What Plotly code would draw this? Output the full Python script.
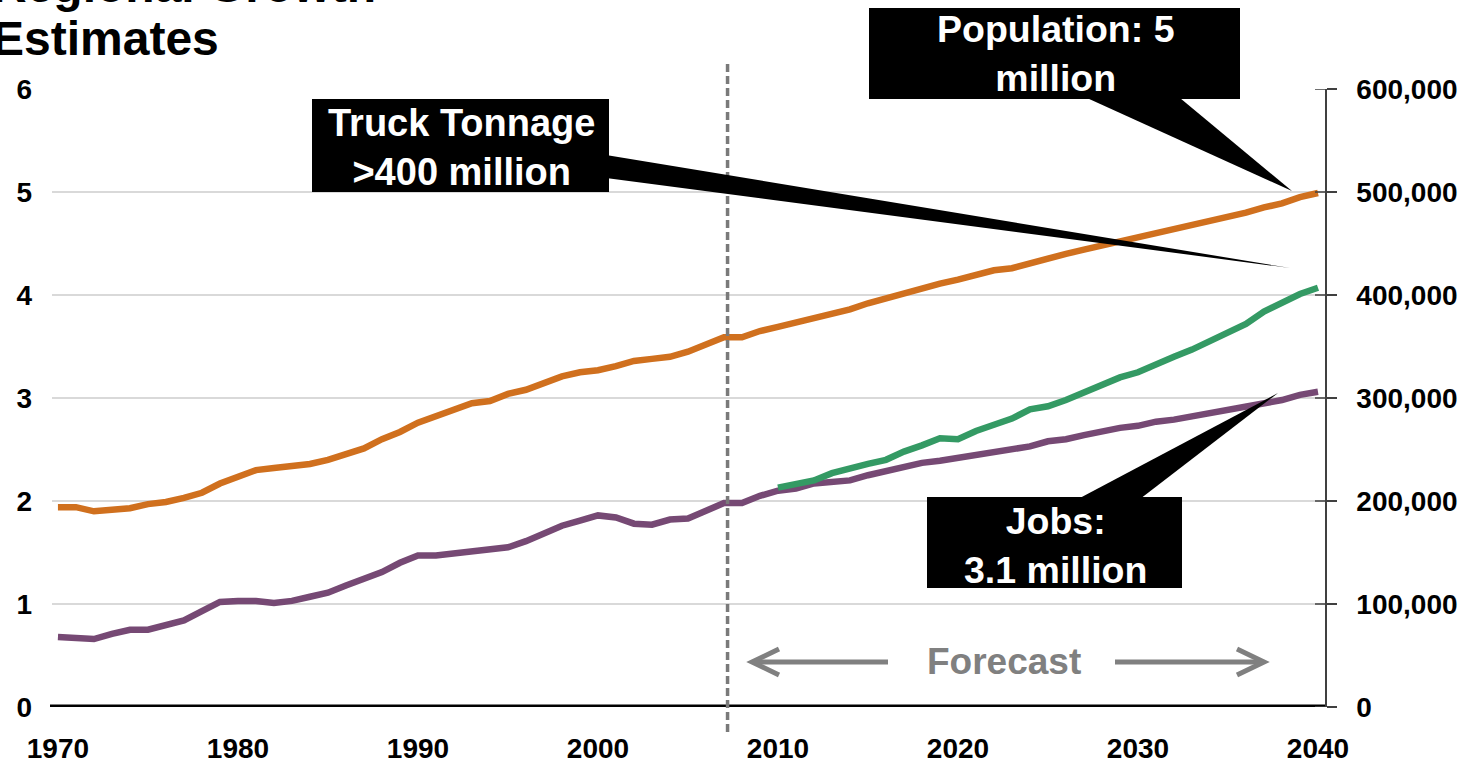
import plotly.graph_objects as go

# ---------------- data ----------------
years = list(range(1970, 2041))
population_m = [1.94, 1.94, 1.90, 1.91, 1.93, 1.97, 1.99, 2.03, 2.08, 2.17,
                2.24, 2.30, 2.32, 2.34, 2.36, 2.40, 2.45, 2.51, 2.60, 2.67,
                2.76, 2.82, 2.88, 2.95, 2.97, 3.04, 3.08, 3.14, 3.21, 3.25,
                3.27, 3.31, 3.36, 3.38, 3.40, 3.45, 3.52, 3.59, 3.59, 3.65,
                3.69, 3.73, 3.77, 3.82, 3.86, 3.92, 3.97, 4.02, 4.07, 4.11,
                4.15, 4.20, 4.24, 4.26, 4.31, 4.36, 4.40, 4.44, 4.48, 4.52,
                4.56, 4.60, 4.63, 4.68, 4.72, 4.76, 4.80, 4.85, 4.89, 4.95,
                4.99]
jobs_m = [0.68, 0.67, 0.66, 0.71, 0.75, 0.75, 0.80, 0.84, 0.93, 1.02,
          1.03, 1.03, 1.01, 1.03, 1.07, 1.11, 1.18, 1.25, 1.31, 1.40,
          1.47, 1.47, 1.49, 1.51, 1.53, 1.55, 1.61, 1.69, 1.76, 1.81,
          1.86, 1.84, 1.78, 1.77, 1.82, 1.83, 1.91, 1.98, 1.98, 2.05,
          2.10, 2.12, 2.17, 2.18, 2.20, 2.25, 2.29, 2.33, 2.37, 2.39,
          2.42, 2.45, 2.47, 2.50, 2.53, 2.58, 2.60, 2.64, 2.68, 2.71,
          2.73, 2.77, 2.79, 2.82, 2.85, 2.88, 2.91, 2.94, 2.98, 3.03,
          3.06]
truck_years = list(range(2010, 2041))
truck_kt = [213000, 217000, 220000, 227000, 232000, 236000, 240000, 248000,
            254000, 261000, 260000, 268000, 274000, 280000, 289000, 292000,
            298000, 305000, 313000, 320000, 325000, 333000, 340000, 347000,
            355000, 363000, 372000, 384000, 392000, 401000, 407000]

x_ticks = [1970, 1980, 1990, 2000, 2010, 2020, 2030, 2040]
left_ticks = [0, 1, 2, 3, 4, 5, 6]
right_ticks = [0, 100000, 200000, 300000, 400000, 500000, 600000]
right_tick_labels = ["0", "100,000", "200,000", "300,000", "400,000", "500,000", "600,000"]
forecast_start = 2007.2

# ---------------- layout helpers ----------------
W, H = 1482, 763
L, R, T, B = 52, 1325, 89, 707
FONT = "Liberation Sans, Arial, sans-serif"
ORANGE = "rgb(208,112,30)"
PURPLE = "rgb(118,73,116)"
GREEN = "rgb(52,154,100)"
GREY = "#808080"


def px(x):
    return (x - L) / (R - L)


def py(y):
    return (B - y) / (B - T)


fig = go.Figure()
fig.add_trace(go.Scatter(x=years, y=population_m, mode="lines",
                         line=dict(color=ORANGE, width=6.5), name="Population"))
fig.add_trace(go.Scatter(x=years, y=jobs_m, mode="lines",
                         line=dict(color=PURPLE, width=6.5), name="Jobs"))
fig.add_trace(go.Scatter(x=truck_years, y=truck_kt, mode="lines", yaxis="y2",
                         line=dict(color=GREEN, width=6.5), name="Truck Tonnage"))

shapes = []
# zero axis line (thick black)
shapes.append(dict(type="line", xref="paper", yref="y", x0=px(50), x1=1, y0=0, y1=0,
                   line=dict(color="black", width=5), layer="below"))
# inner halves of right-axis crossing ticks
for v in right_ticks:
    shapes.append(dict(type="line", xref="paper", yref="y2", x0=px(1315), x1=1,
                       y0=v, y1=v, line=dict(color="#404040", width=1.5)))
# forecast divider
shapes.append(dict(type="line", xref="x", yref="paper", x0=forecast_start, x1=forecast_start,
                   y0=py(732), y1=py(62), line=dict(color="#7a7a7a", width=3.5, dash="8px,4px")))


def tri(a, b, c):
    return "M {} {} L {} {} L {} {} Z".format(px(a[0]), py(a[1]), px(b[0]), py(b[1]),
                                              px(c[0]), py(c[1]))


def box(x0, y0, x1, y1):
    return dict(type="rect", xref="paper", yref="paper", x0=px(x0), x1=px(x1),
                y0=py(y1), y1=py(y0), fillcolor="black", line=dict(width=0))


# callouts
shapes.append(box(869, 8, 1240, 99))
shapes.append(dict(type="path", xref="paper", yref="paper",
                   path=tri((1087, 98), (1180, 98), (1292, 191)),
                   fillcolor="black", line=dict(width=0)))
shapes.append(box(312, 99, 609, 192))
shapes.append(dict(type="path", xref="paper", yref="paper",
                   path=tri((606, 155), (606, 178), (1290, 268)),
                   fillcolor="black", line=dict(width=0)))
shapes.append(box(927, 497, 1182, 588))
shapes.append(dict(type="path", xref="paper", yref="paper",
                   path=tri((1078, 499), (1140, 499), (1278, 393)),
                   fillcolor="black", line=dict(width=0)))

# forecast arrows
for path in ["M {} {} L {} {}".format(px(888), py(662), px(753), py(662)),
             "M {} {} L {} {} L {} {}".format(px(779), py(649), px(752), py(662), px(779), py(675)),
             "M {} {} L {} {}".format(px(1115), py(662), px(1263), py(662)),
             "M {} {} L {} {} L {} {}".format(px(1237), py(649), px(1264), py(662), px(1237), py(675))]:
    shapes.append(dict(type="path", xref="paper", yref="paper", path=path,
                       line=dict(color=GREY, width=5)))

annotations = [
    dict(text="<b>Regional Growth</b>", xref="paper", yref="paper", x=px(-10), y=py(-15),
         xanchor="left", yanchor="middle", showarrow=False,
         font=dict(family=FONT, size=48, color="black")),
    dict(text="<b>Estimates</b>", xref="paper", yref="paper", x=px(-10), y=py(38),
         xanchor="left", yanchor="middle", showarrow=False,
         font=dict(family=FONT, size=48, color="black")),
    dict(text="<b>Population: 5<br>million</b>", xref="paper", yref="paper",
         x=px(1056), y=py(54), xanchor="center", yanchor="middle", showarrow=False,
         font=dict(family=FONT, size=37.5, color="white")),
    dict(text="<b>Truck Tonnage<br>>400 million</b>", xref="paper", yref="paper",
         x=px(461), y=py(147), xanchor="center", yanchor="middle", showarrow=False,
         font=dict(family=FONT, size=38, color="white")),
    dict(text="<b>Jobs:<br>3.1 million</b>", xref="paper", yref="paper",
         x=px(1055), y=py(545), xanchor="center", yanchor="middle", showarrow=False,
         font=dict(family=FONT, size=37.5, color="white")),
    dict(text="<b>Forecast</b>", xref="paper", yref="paper",
         x=px(1004), y=py(661), xanchor="center", yanchor="middle", showarrow=False,
         font=dict(family=FONT, size=37, color=GREY)),
]

tickfont = dict(family=FONT, size=28, color="black", weight="bold")

fig.update_layout(
    width=W, height=H,
    margin=dict(l=L, r=W - R, t=T, b=H - B, pad=0, autoexpand=False),
    paper_bgcolor="white", plot_bgcolor="white",
    showlegend=False,
    shapes=shapes,
    annotations=annotations,
    xaxis=dict(range=[1969.67, 2040.39], tickvals=x_ticks, ticktext=[str(v) for v in x_ticks],
               showgrid=False, zeroline=False, showline=False, ticks="",
               tickfont=tickfont, ticklabelstandoff=22, automargin=False),
    yaxis=dict(range=[0, 6], tickvals=left_ticks, showgrid=True, gridcolor="#d9d9d9",
               gridwidth=1.5, zeroline=False, showline=False, ticks="",
               tickfont=tickfont, ticklabelstandoff=19, automargin=False),
    yaxis2=dict(range=[0, 600000], overlaying="y", side="right", anchor="x",
                tickvals=right_ticks, ticktext=right_tick_labels,
                showgrid=False, zeroline=False, showline=True, linecolor="#404040",
                linewidth=1.5, ticks="outside", ticklen=10, tickcolor="#404040",
                tickwidth=1.5, tickfont=tickfont, ticklabelstandoff=14, automargin=False),
)

fig.write_html("out.html")
